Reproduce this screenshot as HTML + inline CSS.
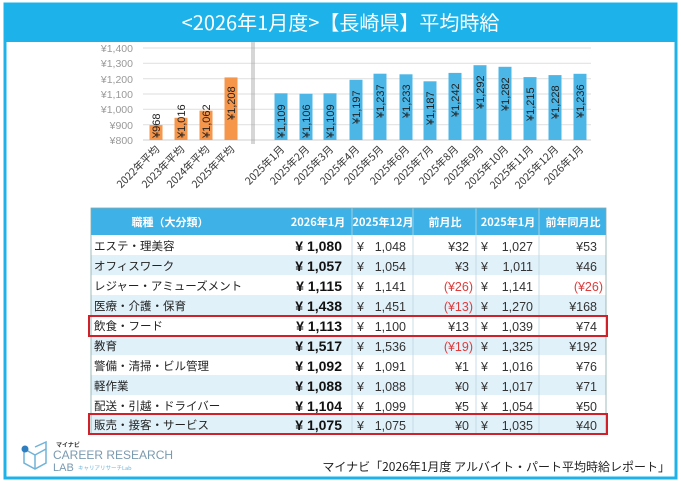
<!DOCTYPE html>
<html><head><meta charset="utf-8"><style>
html,body{margin:0;padding:0;background:#fff;}
body{width:681px;height:484px;overflow:hidden;font-family:"Liberation Sans","Noto Sans CJK JP",sans-serif;}
</style></head><body>
<svg width="681" height="484" viewBox="0 0 681 484" xmlns="http://www.w3.org/2000/svg" font-family="Liberation Sans, Noto Sans CJK JP, sans-serif">
<rect x="0" y="0" width="681" height="484" fill="#fff"/>
<rect x="5" y="4" width="671" height="474" fill="#fff" stroke="#1db3ea" stroke-width="3"/>
<rect x="4" y="3" width="673" height="39" fill="#1db3ea"/>
<text x="340.5" y="30" text-anchor="middle" font-size="20" fill="#fff" font-family="Noto Sans CJK JP, sans-serif">&lt;2026年1月度&gt;【長崎県】平均時給</text>
<g stroke="#e3e3e3" stroke-width="1.2">
<line x1="143" y1="48" x2="591" y2="48"/><line x1="143" y1="63.3" x2="591" y2="63.3"/><line x1="143" y1="78.7" x2="591" y2="78.7"/><line x1="143" y1="94" x2="591" y2="94"/><line x1="143" y1="109.3" x2="591" y2="109.3"/><line x1="143" y1="124.7" x2="591" y2="124.7"/>
</g>
<line x1="143" y1="140" x2="591" y2="140" stroke="#cfcfcf"/>
<g font-size="10.5" fill="#999" text-anchor="end">
<text x="133" y="52">¥1,400</text><text x="133" y="67">¥1,300</text><text x="133" y="83">¥1,200</text><text x="133" y="98">¥1,100</text><text x="133" y="113">¥1,000</text><text x="133" y="129">¥900</text><text x="133" y="144">¥800</text>
</g>
<line x1="252" y1="42" x2="252" y2="144" stroke="#999" stroke-width="0.8"/>
<line x1="254" y1="42" x2="254" y2="144" stroke="#999" stroke-width="0.8"/>
<g fill="#f5964a">
<rect x="149.5" y="125.1" width="13" height="14.9"/>
<rect x="174.5" y="117.8" width="13" height="22.2"/>
<rect x="199.5" y="110.7" width="13" height="29.3"/>
<rect x="224.5" y="77.4" width="13" height="62.6"/>
</g>
<g fill="#4cb7e7">
<rect x="274.5" y="93.3" width="13" height="46.7"/>
<rect x="299.5" y="93.8" width="13" height="46.2"/>
<rect x="323.5" y="93.3" width="13" height="46.7"/>
<rect x="349.5" y="79.8" width="13" height="60.2"/>
<rect x="373.5" y="73.7" width="13" height="66.3"/>
<rect x="399.5" y="74.3" width="13" height="65.7"/>
<rect x="423.5" y="81.3" width="13" height="58.7"/>
<rect x="448.5" y="72.9" width="13" height="67.1"/>
<rect x="473.5" y="65.2" width="13" height="74.8"/>
<rect x="498.5" y="66.8" width="13" height="73.2"/>
<rect x="523.5" y="77.1" width="13" height="62.9"/>
<rect x="548.5" y="75.1" width="13" height="64.9"/>
<rect x="573.5" y="73.8" width="13" height="66.2"/>
</g>
<g font-size="11" fill="#222">
<text transform="translate(160,138) rotate(-90)">¥968</text>
<text transform="translate(185,138) rotate(-90)">¥1,016</text>
<text transform="translate(210,138) rotate(-90)">¥1,062</text>
<text transform="translate(235,120) rotate(-90)">¥1,208</text>
<text transform="translate(285,138) rotate(-90)">¥1,109</text>
<text transform="translate(310,138) rotate(-90)">¥1,106</text>
<text transform="translate(334,138) rotate(-90)">¥1,109</text>
<text transform="translate(360,124) rotate(-90)">¥1,197</text>
<text transform="translate(384,118) rotate(-90)">¥1,237</text>
<text transform="translate(410,118) rotate(-90)">¥1,233</text>
<text transform="translate(434,125) rotate(-90)">¥1,187</text>
<text transform="translate(459,117) rotate(-90)">¥1,242</text>
<text transform="translate(484,109) rotate(-90)">¥1,292</text>
<text transform="translate(509,111) rotate(-90)">¥1,282</text>
<text transform="translate(534,121) rotate(-90)">¥1,215</text>
<text transform="translate(559,119) rotate(-90)">¥1,228</text>
<text transform="translate(584,118) rotate(-90)">¥1,236</text>
</g>
<g font-size="10.5" fill="#333" text-anchor="end" font-family="Noto Sans CJK JP, sans-serif">
<text transform="translate(160,150) rotate(-45)">2022年平均</text>
<text transform="translate(185,150) rotate(-45)">2023年平均</text>
<text transform="translate(210,150) rotate(-45)">2024年平均</text>
<text transform="translate(235,150) rotate(-45)">2025年平均</text>
<text transform="translate(285,150) rotate(-45)">2025年1月</text>
<text transform="translate(310,150) rotate(-45)">2025年2月</text>
<text transform="translate(334,150) rotate(-45)">2025年3月</text>
<text transform="translate(360,150) rotate(-45)">2025年4月</text>
<text transform="translate(384,150) rotate(-45)">2025年5月</text>
<text transform="translate(410,150) rotate(-45)">2025年6月</text>
<text transform="translate(434,150) rotate(-45)">2025年7月</text>
<text transform="translate(459,150) rotate(-45)">2025年8月</text>
<text transform="translate(484,150) rotate(-45)">2025年9月</text>
<text transform="translate(509,150) rotate(-45)">2025年10月</text>
<text transform="translate(534,150) rotate(-45)">2025年11月</text>
<text transform="translate(559,150) rotate(-45)">2025年12月</text>
<text transform="translate(584,150) rotate(-45)">2026年1月</text>
</g>
<rect x="91" y="208" width="515" height="27" fill="#3eb1e6"/>
<g fill="#e0f1fa">
<rect x="91" y="255" width="515" height="20"/>
<rect x="91" y="295" width="515" height="20"/>
<rect x="91" y="335" width="515" height="20"/>
<rect x="91" y="375" width="515" height="20"/>
<rect x="91" y="414" width="515" height="20"/>
</g>
<g stroke="#bcd6e2" stroke-width="0.8">
<line x1="352" y1="208" x2="352" y2="434"/><line x1="413" y1="208" x2="413" y2="434"/><line x1="476" y1="208" x2="476" y2="434"/><line x1="539" y1="208" x2="539" y2="434"/>
</g>
<rect x="91" y="208" width="515" height="226" fill="none" stroke="#8aa" stroke-width="0.8"/>
<g font-size="11" fill="#fff" font-weight="bold" text-anchor="middle" font-family="Noto Sans CJK JP, sans-serif">
<text x="170" y="226">職種（大分類）</text><text x="318" y="226">2026年1月</text><text x="383" y="226">2025年12月</text><text x="445" y="226">前月比</text><text x="508" y="226">2025年1月</text><text x="573" y="226">前年同月比</text>
</g>
<g font-size="11.5" fill="#222" font-family="Noto Sans CJK JP, sans-serif">
<text x="94" y="250">エステ・理美容</text><text x="94" y="270">オフィスワーク</text><text x="94" y="290">レジャー・アミューズメント</text><text x="94" y="310">医療・介護・保育</text><text x="94" y="330">飲食・フード</text><text x="94" y="350">教育</text><text x="94" y="370">警備・清掃・ビル管理</text><text x="94" y="390">軽作業</text><text x="94" y="410">配送・引越・ドライバー</text><text x="94" y="429">販売・接客・サービス</text>
</g>
<g font-size="14" fill="#111" font-weight="bold" text-anchor="end">
<text x="342" y="251">¥ 1,080</text><text x="342" y="271">¥ 1,057</text><text x="342" y="291">¥ 1,115</text><text x="342" y="311">¥ 1,438</text><text x="342" y="331">¥ 1,113</text><text x="342" y="351">¥ 1,517</text><text x="342" y="371">¥ 1,092</text><text x="342" y="391">¥ 1,088</text><text x="342" y="411">¥ 1,104</text><text x="342" y="430">¥ 1,075</text>
</g>
<g font-size="12.5" fill="#333">
<g><text x="357" y="251">¥</text><text x="357" y="271">¥</text><text x="357" y="291">¥</text><text x="357" y="311">¥</text><text x="357" y="331">¥</text><text x="357" y="351">¥</text><text x="357" y="371">¥</text><text x="357" y="391">¥</text><text x="357" y="411">¥</text><text x="357" y="430">¥</text></g>
<g><text x="481" y="251">¥</text><text x="481" y="271">¥</text><text x="481" y="291">¥</text><text x="481" y="311">¥</text><text x="481" y="331">¥</text><text x="481" y="351">¥</text><text x="481" y="371">¥</text><text x="481" y="391">¥</text><text x="481" y="411">¥</text><text x="481" y="430">¥</text></g>
<g text-anchor="end"><text x="406" y="251">1,048</text><text x="406" y="271">1,054</text><text x="406" y="291">1,141</text><text x="406" y="311">1,451</text><text x="406" y="331">1,100</text><text x="406" y="351">1,536</text><text x="406" y="371">1,091</text><text x="406" y="391">1,088</text><text x="406" y="411">1,099</text><text x="406" y="430">1,075</text></g>
<g text-anchor="end"><text x="533" y="251">1,027</text><text x="533" y="271">1,011</text><text x="533" y="291">1,141</text><text x="533" y="311">1,270</text><text x="533" y="331">1,039</text><text x="533" y="351">1,325</text><text x="533" y="371">1,016</text><text x="533" y="391">1,017</text><text x="533" y="411">1,054</text><text x="533" y="430">1,035</text></g>
</g>
<g font-size="12.5" fill="#333" text-anchor="end">
<text x="469" y="251">¥32</text><text x="469" y="271">¥3</text><text x="473" y="291" fill="#e03a3a">(¥26)</text><text x="473" y="311" fill="#e03a3a">(¥13)</text><text x="469" y="331">¥13</text><text x="473" y="351" fill="#e03a3a">(¥19)</text><text x="469" y="371">¥1</text><text x="469" y="391">¥0</text><text x="469" y="411">¥5</text><text x="469" y="430">¥0</text>
<text x="597" y="251">¥53</text><text x="597" y="271">¥46</text><text x="603" y="291" fill="#e03a3a">(¥26)</text><text x="597" y="311">¥168</text><text x="597" y="331">¥74</text><text x="597" y="351">¥192</text><text x="597" y="371">¥76</text><text x="597" y="391">¥71</text><text x="597" y="411">¥50</text><text x="597" y="430">¥40</text>
</g>
<rect x="89" y="316" width="518" height="20" fill="none" stroke="#d0202a" stroke-width="2"/>
<rect x="89" y="414" width="518" height="20" fill="none" stroke="#d0202a" stroke-width="2"/>
<g stroke="#6fb3d8" stroke-width="1.5" fill="none">
<path d="M35 447 L46 442 L46 463 L35 469 L24 463 L24 451"/><path d="M35 455 L46 449 M35 455 L35 469 M35 455 L26 450"/>
</g>
<circle cx="25" cy="449" r="3.5" fill="#2f7fc0"/>
<text x="56" y="447" font-size="6" fill="#333" font-weight="bold" font-family="Noto Sans CJK JP, sans-serif">マイナビ</text>
<text x="53" y="459" font-size="12" fill="#7a9ab0">CAREER RESEARCH</text>
<text x="53" y="471" font-size="11" fill="#7a9ab0">LAB</text>
<text x="78" y="470" font-size="5.5" fill="#6fb3d8" font-family="Noto Sans CJK JP, sans-serif">キャリアリサーチLab</text>
<text x="670" y="471" font-size="12" fill="#222" text-anchor="end" font-family="Noto Sans CJK JP, sans-serif">マイナビ「2026年1月度 アルバイト・パート平均時給レポート」</text>
</svg>
</body></html>
